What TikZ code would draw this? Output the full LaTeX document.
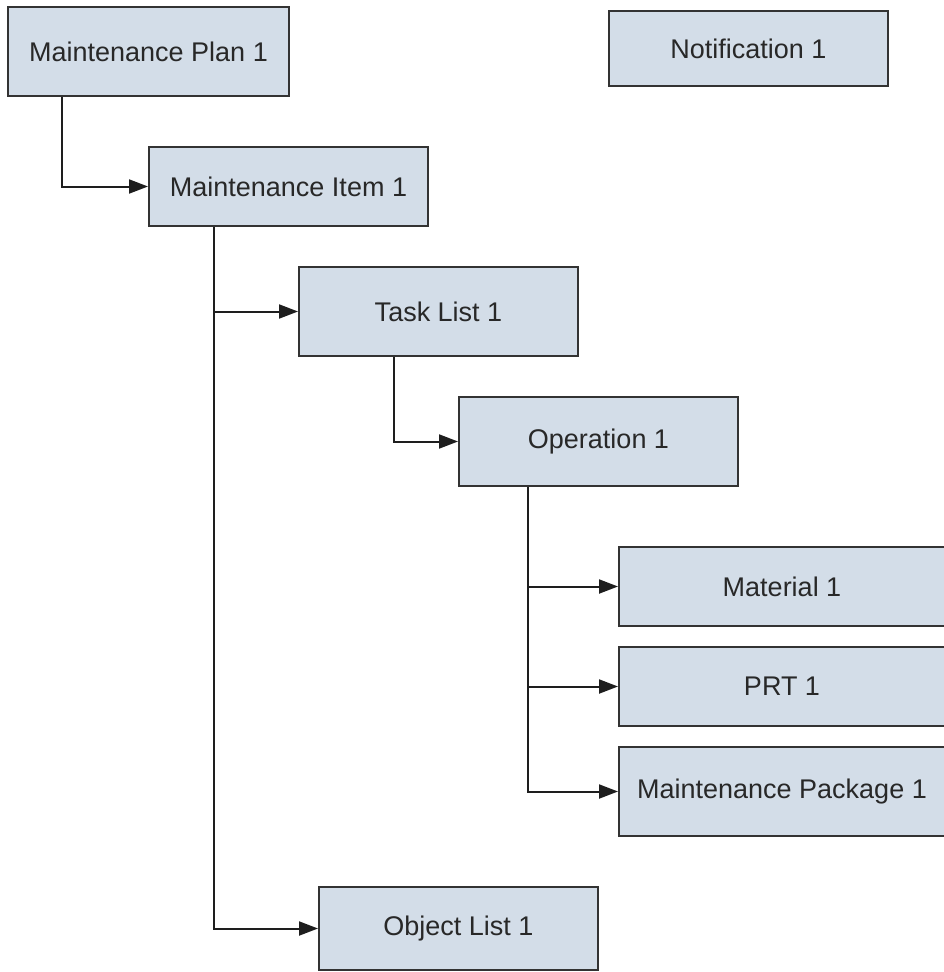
\documentclass[tikz,border=0pt]{standalone}
\usepackage{fontspec}
\setmainfont{Liberation Sans}
\usetikzlibrary{arrows.meta}
\definecolor{boxfill}{RGB}{211,221,232}
\definecolor{boxline}{RGB}{51,51,51}
\definecolor{txt}{RGB}{40,40,40}
\definecolor{conn}{RGB}{30,30,30}
\tikzset{
  box/.style={draw=boxline, fill=boxfill, line width=2pt, rectangle, inner sep=0pt,
    text=txt, font=\fontsize{27}{32}\selectfont},
  conn/.style={draw=conn, line width=2pt, -{Triangle[length=19pt,width=14pt]}}
}
\begin{document}
\begin{tikzpicture}[x=1pt,y=-1pt]
\useasboundingbox (0,0) rectangle (943,972);
\fill[white] (0,0) rectangle (943,972);
\node[box, minimum width=281pt, minimum height=89pt] (mp1) at (148.5,51.5) {Maintenance Plan 1};
\node[box, minimum width=279pt, minimum height=75pt] (notif) at (748.5,48.5) {Notification 1};
\node[box, minimum width=279pt, minimum height=79pt] (mi1) at (288.5,186.5) {Maintenance Item 1};
\node[box, minimum width=279pt, minimum height=89pt] (tl1) at (438.5,311.5) {Task List 1};
\node[box, minimum width=279pt, minimum height=89pt] (op1) at (598.5,441.5) {Operation 1};
\node[box, minimum width=326pt, minimum height=79pt] (mat) at (782,586.5) {Material 1};
\node[box, minimum width=326pt, minimum height=79pt] (prt) at (782,686.5) {PRT 1};
\node[box, minimum width=326pt, minimum height=89pt] (pkg) at (782,791.5) {Maintenance Package 1};
\node[box, minimum width=279pt, minimum height=83pt] (ol1) at (458.5,928.5) {Object List 1};

\draw[conn] ([xshift=55pt]mp1.south west) |- (mi1.west);
\draw[conn] ([xshift=66pt]mi1.south west) |- (tl1.west);
\draw[conn] ([xshift=66pt]mi1.south west) |- (ol1.west);
\draw[conn] ([xshift=96pt]tl1.south west) |- (op1.west);
\draw[conn] ([xshift=70pt]op1.south west) |- (mat.west);
\draw[conn] ([xshift=70pt]op1.south west) |- (prt.west);
\draw[conn] ([xshift=70pt]op1.south west) |- (pkg.west);
\end{tikzpicture}
\end{document}
